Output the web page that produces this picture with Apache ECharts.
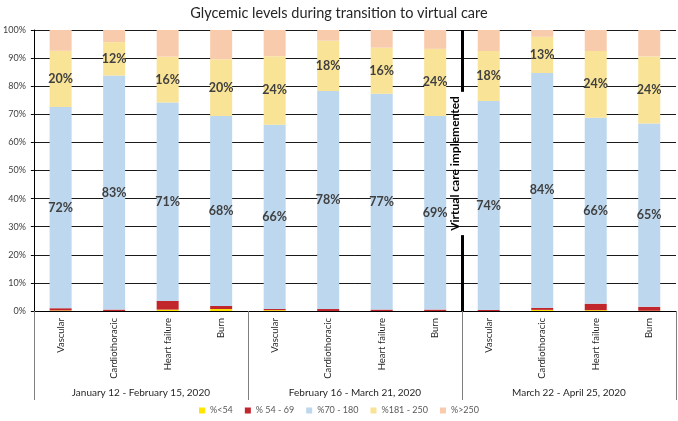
<!DOCTYPE html>
<html>
<head>
<meta charset="utf-8">
<script src="https://cdn.jsdelivr.net/npm/echarts@6/dist/echarts.min.js"></script>
<style>html,body{margin:0;padding:0;background:#fff}#c{width:678px;height:421px}</style>
</head>
<body>
<div id="c"></div>
<script>
var categories = ['Vascular','Cardiothoracic','Heart failure','Burn','Vascular','Cardiothoracic','Heart failure','Burn','Vascular','Cardiothoracic','Heart failure','Burn'];
var periods = ['January 12 - February 15, 2020','February 16 - March 21, 2020','March 22 - April 25, 2020'];
var seriesNames = ['%<54','% 54 - 69','%70 - 180','%181 - 250','%>250'];
var below54 = [0.2, 0, 0.5, 0.7, 0.3, 0, 0, 0, 0, 0.4, 0.3, 0.1];
var r54to69 = [0.8, 0.5, 3.1, 1.1, 0.4, 0.7, 0.5, 0.5, 0.4, 0.7, 2.3, 1.4];
var r70to180 = [71.6, 83.3, 70.6, 67.6, 65.6, 77.6, 76.8, 68.9, 74.3, 83.6, 66.2, 65.2];
var r181to250 = [20.0, 11.9, 16.3, 20.2, 24.4, 17.9, 16.4, 23.9, 17.8, 12.9, 23.7, 23.9];
var above250 = [7.4, 4.3, 9.5, 10.4, 9.3, 3.8, 6.3, 6.7, 7.5, 2.4, 7.5, 9.4];
var yTicks = [0,10,20,30,40,50,60,70,80,90,100];
var interventionIndex = 8; // boundary between period 2 and 3
var interventionGap = [27, 78];

var colors = ['#FFE500','#C0262C','#BDD7EE','#F9E397','#F8CBAD'];
var dataSets = [below54, r54to69, r70to180, r181to250, above250];
var FONT = 'Lato, "Open Sans", sans-serif';

var chart = echarts.init(document.getElementById('c'), null, {renderer:'canvas'});
var series = dataSets.map(function(d, i){
  var showLabel = (i === 2 || i === 3);
  return {
    name: seriesNames[i], type:'bar', stack:'total', xAxisIndex:0, yAxisIndex:0,
    data: d, barWidth: 22, itemStyle:{color: colors[i]},
    label: {show: showLabel, position:'inside', fontFamily: FONT, fontSize:12.5, fontWeight:'bold', color:'#404040',
      formatter: function(p){ return Math.round(p.value) + '%'; }},
    emphasis:{disabled:true}, animation:false
  };
});
series.push({
  type:'line', xAxisIndex:2, yAxisIndex:0, data:[], silent:true, animation:false,
  markLine:{
    symbol:'none', silent:true, animation:false,
    lineStyle:{color:'#000', width:3, type:'solid'},
    label:{show:false},
    data:[
      [{coord:[interventionIndex,100]},{coord:[interventionIndex,interventionGap[1]]}],
      [{coord:[interventionIndex,interventionGap[0]]},{coord:[interventionIndex,0]}]
    ]
  }
});
series.push({
  type:'line', xAxisIndex:2, yAxisIndex:0, data:[], silent:true, animation:false,
  markLine:{
    symbol:'none', silent:true, animation:false,
    lineStyle:{color:'rgba(0,0,0,0)', width:1, type:'solid'},
    label:{show:true, position:'middle', formatter:'Virtual care implemented', fontFamily:FONT, fontSize:12, fontWeight:'bold', color:'#000', distance:1},
    data:[
      [{coord:[interventionIndex,interventionGap[0]]},{coord:[interventionIndex,interventionGap[1]]}]
    ]
  }
});

chart.setOption({
  animation:false,
  textStyle:{fontFamily:FONT},
  title:{text:'Glycemic levels during transition to virtual care', left:'center', top:1,
    textStyle:{fontFamily:FONT, fontSize:14.5, fontWeight:'normal', color:'#262626'}},
  legend:{data:seriesNames, bottom:1, left:'center', icon:'rect', itemWidth:6, itemHeight:6, itemGap:12,
    textStyle:{fontFamily:FONT, fontSize:9, color:'#595959'}},
  grid:{left:33, right:2, top:30, bottom:110, containLabel:false},
  xAxis:[
    {type:'category', data:categories, position:'bottom',
      axisLine:{show:true, lineStyle:{color:'#000', width:1}},
      axisTick:{show:false},
      axisLabel:{rotate:90, interval:0, margin:7, fontFamily:FONT, fontSize:9.5, color:'#262626'}},
    {type:'category', data:periods, position:'bottom',
      axisLine:{show:false},
      axisTick:{show:true, length:89, interval:0, lineStyle:{color:'#7f7f7f', width:1}},
      axisLabel:{interval:0, margin:77, fontFamily:FONT, fontSize:10, color:'#262626'}},
    {type:'value', min:0, max:categories.length, position:'top', show:false}
  ],
  yAxis:[{type:'value', min:yTicks[0], max:yTicks[yTicks.length-1], interval:10,
    axisLine:{show:true, lineStyle:{color:'#000'}},
    axisTick:{show:true, length:3, lineStyle:{color:'#000'}},
    splitLine:{show:true, lineStyle:{color:'#1a1a1a', width:1}},
    axisLabel:{formatter:'{value}%', fontFamily:FONT, fontSize:9, color:'#404040', margin:8}}],
  series: series
});
</script>
</body>
</html>
